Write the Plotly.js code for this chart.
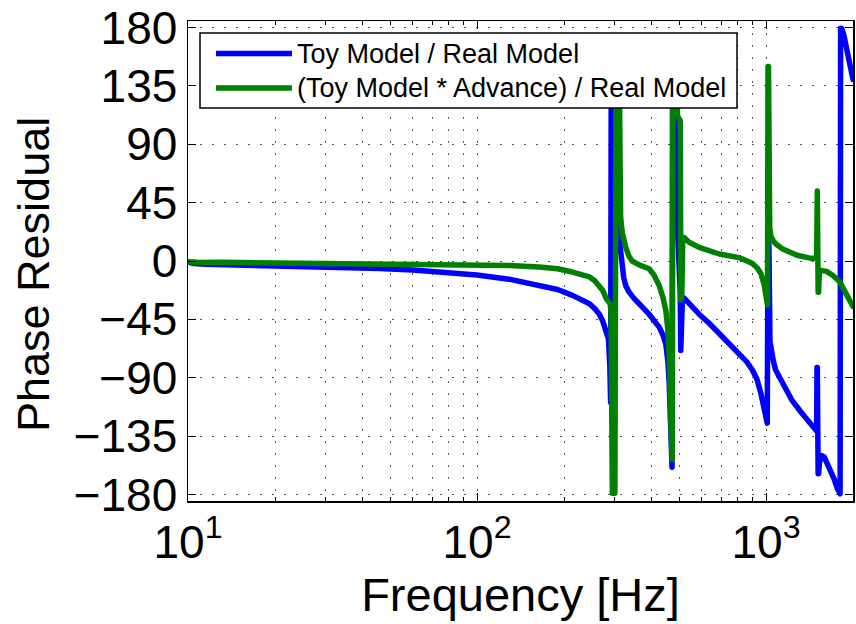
<!DOCTYPE html>
<html>
<head>
<meta charset="utf-8">
<script src="https://cdn.plot.ly/plotly-3.0.1.min.js"></script>
<style>
  html, body { margin: 0; padding: 0; background: #fff; }
  #chart { width: 856px; height: 624px; }
  .js-line { stroke-linejoin: round; stroke-linecap: round; }
</style>
</head>
<body>
<div id="chart"></div>
<script>
// ---- data ----
const seriesNames = ['Toy Model / Real Model', '(Toy Model * Advance) / Real Model'];
const seriesColors = ['#0000ff', '#008000'];

const freqBlue = [10, 10.5, 11.5, 13, 16, 20, 30, 46, 60, 74, 100, 129, 164, 190, 214, 230, 245, 255, 265, 272, 280, 285, 288, 290,
  291.5, 309, 311, 315, 318, 322, 327, 336, 350, 364, 394, 427, 440, 450, 458, 463, 468, 471, 473,
  475, 486, 490, 494, 505, 507, 510, 514, 520, 542, 587, 636, 689, 750, 807, 860, 897, 930, 960, 980, 990, 1004, 1010,
  1016, 1024, 1032, 1040, 1060, 1080, 1137, 1227, 1327, 1445, 1485, 1497, 1501, 1505, 1515, 1520, 1532, 1560, 1590, 1630, 1673, 1720, 1763, 1790, 1805,
  1812, 1830, 1860, 1885, 1930, 1986, 2000];
const phaseBlue = [-1.0, -2.0, -2.6, -2.8, -3.2, -3.6, -4.4, -5.8, -7.0, -8.5, -10.8, -14.0, -18.5, -22, -26.5, -29.5, -33, -36.5, -41, -46, -53, -60, -80, -109,
  165, 165, 16, 4, -5, -13, -19, -24, -29, -33, -41, -51, -57, -64, -78, -97, -122, -143, -159,
  165, 165, 46, 30, -25, -69, -50, -28, -28.5, -33, -41, -48, -56, -64, -71, -78, -84, -91, -102, -112, -117, -125, -125,
  22, 10, -62, -68, -77, -84, -94, -107, -117, -126.5, -129, -131, -82, -82, -164, -164, -155, -150, -151, -156, -161, -168, -175, -179, -179.5,
  179.5, 179, 174, 168, 158, 143.5, 140];

const freqGreen = [10, 11, 13, 20, 46, 74, 100, 129, 164, 190, 214, 230, 245, 255, 265, 272, 280, 285, 289, 291,
  294, 300, 303, 310, 314, 318, 322, 327, 335, 344, 364, 394, 410, 427, 440, 450, 457, 462, 468, 471, 474,
  476.5, 490, 494, 505, 507.5, 511, 515, 521, 542, 587, 689, 807, 860, 897, 930, 960, 985, 1000, 1008, 1012,
  1016, 1020, 1030, 1040, 1060, 1080, 1137, 1280, 1445, 1485, 1497, 1501, 1505, 1515, 1520, 1532, 1560, 1620, 1700, 1800, 1880, 1950, 2000];
const phaseGreen = [-0.5, -1.2, -1.0, -1.5, -1.8, -2.5, -3.0, -3.5, -4.6, -6, -8.5, -10.3, -12.3, -15, -18.7, -22.5, -29, -31.5, -33, -40,
  -179, -179, 165, 165, 34, 22, 16, 10.6, 4, 0, -3, -6, -11, -19, -28, -38, -52, -71, -122, -142, -153,
  165, 165, 112, 108, -30, -28, 15, 18, 14.5, 10.5, 5.4, 2.6, 0, -2, -5, -9.7, -18, -26, -32, -34,
  150, 150, 26, 19, 15.5, 13.3, 9.5, 4.4, 1.8, 2.6, 5, 54, 54, -24, -24, -7, -7, -8, -11, -16, -24, -30, -35];

const yTickVals = [-180, -135, -90, -45, 0, 45, 90, 135, 180];
const xTickVals = [10, 100, 1000];
const xTickText = ['10<sup>1</sup>', '10<sup>2</sup>', '10<sup>3</sup>'];
const xTitle = 'Frequency [Hz]';
const yTitle = 'Phase Residual';

// ---- layout helpers (pixel geometry of the plot box) ----
const W = 856, H = 624;
const M = { l: 188, r: 3, t: 21, b: 123 };
const PW = W - M.l - M.r, PH = H - M.t - M.b;
const px = x => (x - M.l) / PW;        // page x -> paper x
const py = y => (H - M.b - y) / PH;    // page y -> paper y

const FONT = 'Liberation Sans, Arial, Helvetica, sans-serif';
const gridDash = '2px,10px';
const gridColor = '#555';

const traces = [
  { x: freqBlue, y: phaseBlue, name: seriesNames[0], type: 'scatter', mode: 'lines',
    line: { color: seriesColors[0], width: 5.5 }, showlegend: false, hoverinfo: 'skip' },
  { x: freqGreen, y: phaseGreen, name: seriesNames[1], type: 'scatter', mode: 'lines',
    line: { color: seriesColors[1], width: 5.5 }, showlegend: false, hoverinfo: 'skip' }
];

// custom MATLAB-style legend box
const legBox = { x0: px(200), x1: px(737), y0: py(108), y1: py(33) };
const rowY = [py(53.5), py(88)];
const shapes = [
  { type: 'rect', xref: 'paper', yref: 'paper', x0: legBox.x0, x1: legBox.x1, y0: legBox.y0, y1: legBox.y1,
    fillcolor: '#ffffff', line: { color: '#000', width: 1.5 }, layer: 'above' }
];
const annotations = [];
seriesNames.forEach((nm, i) => {
  shapes.push({ type: 'line', xref: 'paper', yref: 'paper', x0: px(216), x1: px(292), y0: rowY[i], y1: rowY[i],
    line: { color: seriesColors[i], width: 5.5 }, layer: 'above' });
  annotations.push({ xref: 'paper', yref: 'paper', x: px(295), y: rowY[i], xanchor: 'left', yanchor: 'middle',
    text: nm, showarrow: false, font: { family: FONT, size: 27, color: '#000' } });
});
annotations.push({ xref: 'paper', yref: 'paper', x: px(33), y: py(275), xanchor: 'center', yanchor: 'middle',
  text: yTitle, textangle: -90, showarrow: false, font: { family: FONT, size: 45, color: '#000' } });

const layout = {
  width: W, height: H,
  margin: M,
  paper_bgcolor: '#fff', plot_bgcolor: '#fff',
  font: { family: FONT, color: '#000' },
  showlegend: false,
  xaxis: {
    type: 'log', range: [1, Math.log10(2000)],
    tickmode: 'array', tickvals: xTickVals, ticktext: xTickText,
    tickfont: { family: FONT, size: 46, color: '#000' },
    ticks: 'inside', ticklen: 8, tickwidth: 1, tickcolor: '#000',
    showline: true, linecolor: '#000', linewidth: 1.5, mirror: 'ticks',
    showgrid: true, gridcolor: gridColor, gridwidth: 1, griddash: gridDash,
    minor: { dtick: 'D1', ticks: 'inside', ticklen: 4, tickcolor: '#000', tickwidth: 1,
             showgrid: true, gridcolor: gridColor, gridwidth: 1, griddash: gridDash },
    zeroline: false, automargin: false,
    title: { text: xTitle, font: { family: FONT, size: 47, color: '#000' }, standoff: 4 }
  },
  yaxis: {
    range: [-185, 185],
    tickmode: 'array', tickvals: yTickVals,
    tickfont: { family: FONT, size: 46, color: '#000' },
    ticks: 'inside', ticklen: 8, tickwidth: 1, tickcolor: '#000',
    showline: true, linecolor: '#000', linewidth: 1.5, mirror: 'ticks',
    showgrid: true, gridcolor: gridColor, gridwidth: 1, griddash: gridDash,
    zeroline: false, automargin: false
  },
  shapes: shapes,
  annotations: annotations
};

Plotly.newPlot('chart', traces, layout, { staticPlot: true, displayModeBar: false });
</script>
</body>
</html>
